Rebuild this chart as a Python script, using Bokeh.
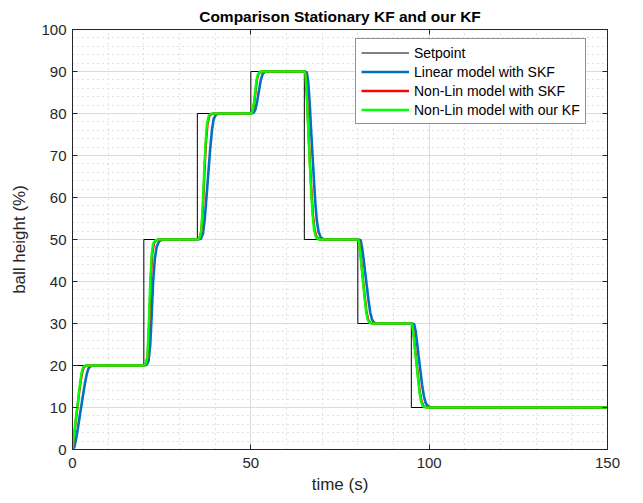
from bokeh.plotting import figure
from bokeh.models import Range1d, FixedTicker, LinearAxis, CustomJSTickFormatter, Legend, LegendItem
from bokeh.embed import file_html
from bokeh.resources import INLINE

# ---- data ----
x_ticks = [0, 50, 100, 150]
y_ticks = [0, 10, 20, 30, 40, 50, 60, 70, 80, 90, 100]

setpoint_t = [0, 0, 20, 20, 35, 35, 50, 50, 65, 65, 80, 80, 95, 95, 150]
setpoint_y = [0, 20, 20, 50, 50, 80, 80, 90, 90, 50, 50, 30, 30, 10, 10]

lin_skf_t = [0, 0.5, 1, 1.5, 2, 2.5, 3, 3.5, 4, 4.5, 5, 6,
             20, 20.8, 21.3, 21.8, 22.2, 22.6, 23.1, 23.6, 24.3, 25.3,
             35, 36, 36.6, 37.1, 37.6, 38.1, 38.6, 39.1, 39.6, 40.3, 41.3,
             50, 50.8, 51.3, 51.8, 52.3, 52.8, 53.3, 54,
             65, 65.7, 66.1, 66.5, 66.9, 67.3, 67.7, 68.1, 68.5, 69, 69.6, 70.5,
             80, 80.8, 81.2, 81.6, 82, 82.5, 83, 83.5, 84, 84.6, 85.5,
             95, 95.8, 96.2, 96.6, 97, 97.5, 98, 98.5, 99, 99.7, 100.5, 150]
lin_skf_y = [0, 0.5, 2.5, 5, 7.8, 10.5, 13.2, 15.8, 18, 19.3, 19.8, 20,
             20, 20.2, 21, 25, 32, 40, 45.5, 48.3, 49.6, 50,
             50, 50.2, 51.5, 55, 60.5, 66, 71.5, 76, 78.8, 79.8, 80,
             80, 80.2, 81, 83, 85.5, 88, 89.4, 90,
             90, 89.8, 87.5, 82.5, 76, 70, 64, 58.5, 54.5, 51.8, 50.5, 50,
             50, 49.8, 48, 45.5, 42.5, 39, 35.5, 32.5, 30.9, 30.2, 30,
             30, 29.8, 28.2, 25.5, 22.5, 19, 15.5, 12.8, 11.1, 10.3, 10, 10]

nl_skf_t = [0, 0.35, 0.75, 1.05, 1.45, 1.85, 2.3, 2.75, 3.2, 3.9,
            20, 20.5, 21.05, 21.5, 21.9, 22.35, 22.8, 23.4, 24.2,
            35, 35.6, 36.15, 36.6, 37, 37.4, 37.85, 38.4, 39.3,
            50, 50.45, 50.85, 51.3, 51.7, 52.15, 52.8,
            65, 65.35, 65.75, 66.15, 66.55, 67, 67.4, 67.85, 68.4, 69.3,
            80, 80.35, 80.75, 81.15, 81.55, 82, 82.4, 82.85, 83.4, 84.3,
            95, 95.35, 95.75, 96.15, 96.55, 97, 97.4, 97.85, 98.4, 99.3, 150]
nl_skf_y = [0, 2.5, 5.5, 7.8, 10.5, 13.5, 16.3, 18.5, 19.6, 20,
            20, 20.3, 22, 30, 40, 46.5, 49, 49.8, 50,
            50, 50.3, 52, 58, 66, 73, 77.5, 79.5, 80,
            80, 80.3, 82, 85, 88, 89.4, 90,
            90, 89.5, 84, 76, 68.5, 61.5, 56, 52.5, 50.6, 50,
            50, 49.6, 46.5, 43, 39.5, 36, 33, 31, 30.2, 30,
            30, 29.6, 26.5, 23, 20, 16.5, 13.5, 11.5, 10.3, 10, 10]

nl_ourkf_t = [0, 0.3, 0.7, 1, 1.4, 1.8, 2.2, 2.6, 3, 3.6,
              20, 20.5, 21, 21.4, 21.8, 22.2, 22.6, 23.2, 24,
              35, 35.6, 36.1, 36.5, 36.9, 37.3, 37.7, 38.2, 39,
              50, 50.4, 50.8, 51.2, 51.6, 52, 52.6,
              65, 65.3, 65.7, 66.1, 66.5, 66.9, 67.3, 67.7, 68.2, 69,
              80, 80.3, 80.7, 81.1, 81.5, 81.9, 82.3, 82.7, 83.2, 84,
              95, 95.3, 95.7, 96.1, 96.5, 96.9, 97.3, 97.7, 98.2, 99, 150]
nl_ourkf_y = [0, 2.5, 5.5, 7.8, 10.5, 13.5, 16.3, 18.5, 19.6, 20,
              20, 20.3, 22, 30, 40, 46.5, 49, 49.8, 50,
              50, 50.3, 52, 58, 66, 73, 77.5, 79.5, 80,
              80, 80.3, 82, 85, 88, 89.4, 90,
              90, 89.5, 84, 76, 68.5, 61.5, 56, 52.5, 50.6, 50,
              50, 49.6, 46.5, 43, 39.5, 36, 33, 31, 30.2, 30,
              30, 29.6, 26.5, 23, 20, 16.5, 13.5, 11.5, 10.3, 10, 10]

labels = ["Setpoint", "Linear model with SKF", "Non-Lin model with SKF", "Non-Lin model with our KF"]

FONT = "Liberation Sans"
AX = "#262626"

p = figure(width=643, height=503, output_backend="svg", toolbar_location=None,
           x_range=Range1d(0, 150), y_range=Range1d(0, 100),
           min_border_left=72, min_border_right=36, min_border_top=29, min_border_bottom=54,
           title="Comparison Stationary KF and our KF")
p.background_fill_color = "white"
p.border_fill_color = "white"
p.outline_line_color = AX
p.outline_line_width = 1

p.title.align = "center"
p.title.text_font = FONT
p.title.text_font_size = "15.5px"
p.title.text_font_style = "bold"
p.title.text_color = "black"

xt = FixedTicker(ticks=x_ticks, minor_ticks=[v for v in range(0, 151, 10) if v % 50])
yt = FixedTicker(ticks=y_ticks, minor_ticks=[v for v in range(0, 101, 2) if v % 10])

p.xaxis.ticker = xt
p.yaxis.ticker = yt
for ax in (p.xaxis[0], p.yaxis[0]):
    ax.major_tick_in = 5
    ax.major_tick_out = 0
    ax.minor_tick_in = 0
    ax.minor_tick_out = 0
    ax.axis_line_color = AX
    ax.major_tick_line_color = AX
    ax.major_label_text_font = FONT
    ax.major_label_text_font_size = "15px"
    ax.major_label_text_color = AX
    ax.axis_label_text_font = FONT
    ax.axis_label_text_font_size = "17px"
    ax.axis_label_text_font_style = "normal"
    ax.axis_label_text_color = AX
p.xaxis.axis_label = "time (s)"
p.yaxis.axis_label = "ball height (%)"
p.xaxis.major_label_standoff = 8
p.xaxis.axis_label_standoff = 4
p.yaxis.major_label_standoff = 6
p.yaxis.axis_label_standoff = 9

blank = CustomJSTickFormatter(code="return ''")
top = LinearAxis(ticker=FixedTicker(ticks=x_ticks), formatter=blank,
                 major_tick_in=5, major_tick_out=0, minor_tick_in=0, minor_tick_out=0,
                 axis_line_color=AX, major_tick_line_color=AX, major_label_standoff=0)
right = LinearAxis(ticker=FixedTicker(ticks=y_ticks), formatter=blank,
                   major_tick_in=5, major_tick_out=0, minor_tick_in=0, minor_tick_out=0,
                   axis_line_color=AX, major_tick_line_color=AX, major_label_standoff=0)
p.add_layout(top, "above")
p.add_layout(right, "right")

for g in (p.xgrid[0], p.ygrid[0]):
    g.grid_line_color = "#dcdcdc"
    g.grid_line_width = 1
    g.minor_grid_line_color = "#c4c4c4"
    g.minor_grid_line_dash = "1 4"
    g.minor_grid_line_width = 1
p.xgrid.ticker = xt
p.ygrid.ticker = yt

r0 = p.line(setpoint_t, setpoint_y, line_color="black", line_width=1)
r1 = p.line(lin_skf_t, lin_skf_y, line_color="#0072BD", line_width=2.6)
r2 = p.line(nl_skf_t, nl_skf_y, line_color="#FF0000", line_width=2.4)
r3 = p.line(nl_ourkf_t, nl_ourkf_y, line_color="#00FF00", line_width=2.4)

legend = Legend(items=[LegendItem(label=labels[0], renderers=[r0]),
                       LegendItem(label=labels[1], renderers=[r1]),
                       LegendItem(label=labels[2], renderers=[r2]),
                       LegendItem(label=labels[3], renderers=[r3])],
                location=(283, 325))
legend.border_line_color = AX
legend.border_line_width = 1
legend.background_fill_color = "white"
legend.background_fill_alpha = 1
legend.label_text_font = FONT
legend.label_text_font_size = "14px"
legend.label_text_color = "black"
legend.glyph_width = 48
legend.glyph_height = 17
legend.label_height = 17
legend.label_standoff = 5
legend.spacing = 2
legend.padding = 5
legend.margin = 0
p.add_layout(legend, "center")

open("out.html", "w").write(file_html(p, INLINE))
